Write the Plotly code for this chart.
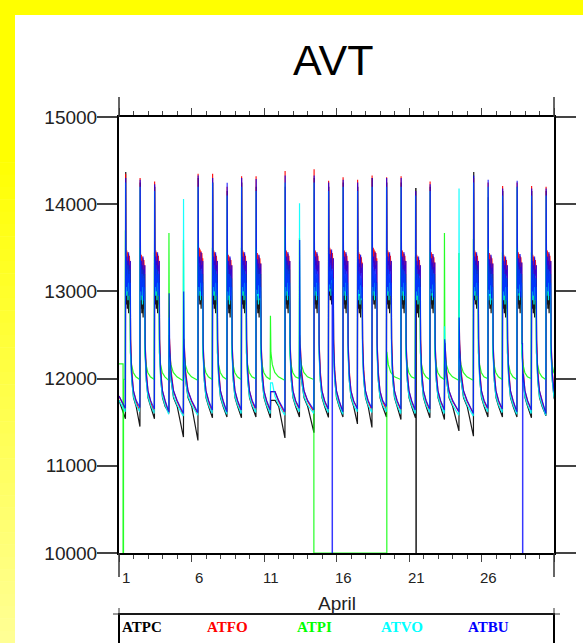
import plotly.graph_objects as go

# ------------------------------------------------------------------
# Labels
# ------------------------------------------------------------------
TITLE = "AVT"
MONTH = "April"
N_DAYS = 30
TICK_DAYS = [1, 6, 11, 16, 21, 26]
Y_TICKS = [10000, 11000, 12000, 13000, 14000, 15000]

STATIONS = ["ATPC", "ATFO", "ATPI", "ATVO", "ATBU"]
COLORS = {"ATPC": "#000000", "ATFO": "#ff0000", "ATPI": "#00ff00",
          "ATVO": "#00ffff", "ATBU": "#0000ff"}
OPACITY = {"ATPC": 0.9, "ATFO": 0.9, "ATPI": 0.85, "ATVO": 0.9, "ATBU": 0.78}

# ------------------------------------------------------------------
# Daily readings (one value per day of April)
# ------------------------------------------------------------------
# midday spike maximum
ATPC_PEAK = [14370, 14250, 14200, 12200, 12300, 14300, 14250, 14150, 14250, 14200,
             11750, 14200, 12100, 14300, 14200, 14250, 14200, 14300, 14250, 14250,
             14180, 14200, 12200, 12350, 14370, 14080, 14150, 14200, 14150, 14150]
ATFO_PEAK = [14350, 14300, 14260, 12500, 12450, 14350, 14350, 14200, 14320, 14320,
             11850, 14380, 12500, 14400, 14270, 14310, 14280, 14330, 14310, 14320,
             14150, 14260, 12400, 12900, 14300, 14250, 14210, 14250, 14210, 14200]
ATPI_PEAK = [13700, 13500, 13450, 13670, 13590, 13550, 13500, 13450, 13500, 13500,
             12720, 13740, 13610, 13600, 13400, 13400, 13400, 13400, 12400, 13400,
             13400, 13450, 13670, 13440, 13600, 13500, 13450, 13500, 13450, 13450]
ATVO_PEAK = [14250, 14200, 14150, 12700, 14060, 14200, 14250, 14100, 14200, 14150,
             11950, 14250, 14010, 14250, 14150, 14200, 14150, 14200, 14200, 14200,
             14100, 14150, 12600, 14180, 14250, 14200, 14100, 14200, 14100, 14100]
ATBU_PEAK = [14300, 14280, 14230, 12980, 13000, 14330, 14300, 14245, 14300, 14290,
             11850, 14330, 13590, 14330, 14250, 14280, 14250, 14300, 14300, 14300,
             14150, 14230, 12450, 12700, 14330, 14280, 14180, 14270, 14180, 14180]

# afternoon plateau level (None: no plateau that day)
ATPC_PLAT = [13000, 12950, 13000, None, None, 13050, 13000, 12950, 13000, 12950,
             None, 13000, None, 13000, 13100, 13000, 12950, 13050, 13000, 13000,
             12950, 13000, None, None, 13050, 13000, 12950, 13000, 12950, 13000]
ATFO_PLAT = [13350, 13300, 13350, None, None, 13380, 13350, 13300, 13350, 13320,
             None, 13350, None, 13350, 13380, 13350, 13330, 13380, 13350, 13350,
             13300, 13330, None, None, 13350, 13320, 13300, 13330, 13300, 13350]
ATPI_PLAT = [13200, 13150, 13150, None, None, 13150, 13150, 13100, 13150, 13150,
             None, 13200, None, 13150, 13150, 13150, 13150, 13150, None, 13150,
             13100, 13150, None, None, 13200, 13150, 13100, 13150, 13100, 13150]
ATVO_PLAT = [13100, 13050, 13100, None, None, 13100, 13100, 13050, 13100, 13050,
             None, 13100, None, 13100, 13150, 13100, 13050, 13100, 13100, 13100,
             13050, 13100, None, None, 13100, 13050, 13050, 13100, 13050, 13100]
ATBU_PLAT = [13250, 13200, 13250, None, None, 13250, 13250, 13200, 13250, 13220,
             None, 13250, None, 13250, 13280, 13250, 13220, 13250, 13250, 13250,
             13200, 13230, None, None, 13250, 13220, 13200, 13230, 13200, 13250]

# overnight minimum reached before the next day's spike
ATPC_LOW = [11450, 11540, 11610, 11330, 11290, 11550, 11560, 11550, 11560, 11550,
            11320, 11560, 11380, 11555, 11560, 11480, 11440, 11560, 11530, 11550,
            11550, 11530, 11400, 11340, 11560, 11560, 11560, 11550, 11575, 11560]
ATFO_LOW = [11620, 11600, 11600, 11580, 11590, 11600, 11610, 11620, 11640, 11620,
            11600, 11650, 11620, 11640, 11620, 11660, 11640, 11650, 11640, 11620,
            11630, 11640, 11620, 11600, 11650, 11640, 11620, 11640, 11600, 11700]
ATPI_LOW = [11990, 11990, 11980, 11975, 11980, 11990, 11990, 11990, 12000, 11990,
            11980, 12000, 11990, 11990, 11990, 11990, 11990, 11990, 11990, 12000,
            11990, 11990, 11980, 11980, 12000, 11990, 11990, 12000, 11990, 12050]
ATVO_LOW = [11620, 11600, 11590, 11570, 11580, 11600, 11590, 11600, 11610, 11600,
            11580, 11620, 11600, 11610, 11590, 11620, 11610, 11620, 11600, 11600,
            11610, 11600, 11580, 11570, 11620, 11610, 11590, 11600, 11580, 11650]
ATBU_LOW = [11670, 11650, 11620, 11600, 11610, 11640, 11620, 11640, 11660, 11640,
            11620, 11660, 11640, 11650, 11620, 11650, 11660, 11680, 11650, 11640,
            11650, 11640, 11620, 11600, 11660, 11650, 11620, 11640, 11600, 11700]

# value at 00:00 on the 1st and the first morning minimum
ATPC_INIT = [11750, 11540]
ATFO_INIT = [11800, 11650]
ATPI_INIT = [12170, 11990]
ATVO_INIT = [11750, 11620]
ATBU_INIT = [11800, 11660]

# evening decay levels after the plateau ends
ATPC_DECAY = [12300, 11980, 11780, 11680]
ATFO_DECAY = [12450, 12100, 11860, 11740]
ATPI_DECAY = [12300, 12160, 12070, 12020]
ATVO_DECAY = [12300, 12000, 11800, 11700]
ATBU_DECAY = [12400, 12050, 11860, 11750]

# time of the daily spike (fraction of a day)
SPIKE_TIME = {"ATPC": 0.465, "ATFO": 0.455, "ATPI": 0.445, "ATVO": 0.45, "ATBU": 0.46}

# fluctuation around the plateau level during the afternoon
PLATEAU_PHASES = [0.02, 0.05, 0.08, 0.11, 0.14, 0.17, 0.20, 0.23, 0.26, 0.29, 0.32]
ATPC_SWING = [100, -150, 50, -200, 80, -100, -250, 0, -150, 60, -200]
ATFO_SWING = [150, -100, 120, -50, 100, -150, 80, -120, 60, -80, 0]
ATPI_SWING = [100, -100, 150, -150, 50, -200, 100, -50, 0, -100, 50]
ATVO_SWING = [120, -150, 80, -100, 150, -200, 50, -50, 100, -150, 0]
ATBU_SWING = [200, -200, 150, -250, 100, -150, 200, -300, 50, -100, 100]

# periods where a station dropped out (start, end in days since April 1 00:00)
DROPOUTS = {
    "ATPI": [(0.28, 0.31), (13.44, 18.47)],
    "ATBU": [(14.70, 14.72), (27.83, 27.85)],
    "ATPC": [(20.48, 20.50)],
}
DROPOUT_LEVEL = 10000

DATA = {
    "ATPC": (ATPC_INIT, ATPC_PEAK, ATPC_PLAT, ATPC_LOW, ATPC_DECAY, ATPC_SWING),
    "ATFO": (ATFO_INIT, ATFO_PEAK, ATFO_PLAT, ATFO_LOW, ATFO_DECAY, ATFO_SWING),
    "ATPI": (ATPI_INIT, ATPI_PEAK, ATPI_PLAT, ATPI_LOW, ATPI_DECAY, ATPI_SWING),
    "ATVO": (ATVO_INIT, ATVO_PEAK, ATVO_PLAT, ATVO_LOW, ATVO_DECAY, ATVO_SWING),
    "ATBU": (ATBU_INIT, ATBU_PEAK, ATBU_PLAT, ATBU_LOW, ATBU_DECAY, ATBU_SWING),
}


def daily_cycle(init, peak, plat, low, decay, swing, spike):
    """Vertices of one station's trace: morning minimum, midday spike,
    afternoon plateau, evening decay, for every day of the month."""
    t = [0.0, spike - 0.02]
    v = [init[0], init[1]]
    for d in range(N_DAYS):
        ts = d + spike
        t.append(ts)
        v.append(peak[d])
        if plat[d] is not None:
            for ph, off in zip(PLATEAU_PHASES, swing):
                t.append(ts + ph)
                v.append(plat[d] + off)
            base = plat[d]
            t_decay = [ts + 0.34, ts + 0.42, ts + 0.54, ts + 0.72]
        else:
            base = peak[d]
            t_decay = [ts + 0.03, ts + 0.13, ts + 0.30, ts + 0.55]
        for td, lv in zip(t_decay, decay):
            t.append(td)
            v.append(min(lv, base))
        t.append(ts + 0.98)
        v.append(low[d])
    return t, v


def with_dropouts(t, v, gaps):
    for start, end in gaps:
        nt, nv = [], []
        before = [(a, b) for a, b in zip(t, v) if a < start]
        after = [(a, b) for a, b in zip(t, v) if a > end]
        for a, b in before:
            nt.append(a)
            nv.append(b)
        nt += [start, start, end, end]
        nv += [before[-1][1], DROPOUT_LEVEL, DROPOUT_LEVEL, after[0][1]]
        for a, b in after:
            nt.append(a)
            nv.append(b)
        t, v = nt, nv
    return t, v


# ------------------------------------------------------------------
# Geometry helpers (pixel -> paper coordinates)
# ------------------------------------------------------------------
FIG_W, FIG_H = 583, 643
PL, PR, PT, PB = 119, 554, 117, 553


def px(x):
    return (x - PL) / (PR - PL)


def py(y):
    return (PB - y) / (PB - PT)


fig = go.Figure()

for name in STATIONS:
    init, peak, plat, low, decay, swing = DATA[name]
    t, v = daily_cycle(init, peak, plat, low, decay, swing, SPIKE_TIME[name])
    t, v = with_dropouts(t, v, DROPOUTS.get(name, []))
    fig.add_trace(go.Scatter(
        x=t, y=v, mode="lines", name=name, opacity=OPACITY[name],
        line=dict(color=COLORS[name], width=1.2, simplify=False),
        showlegend=False, hoverinfo="skip",
    ))

shapes = []
# yellow page border: solid band on top, fading band on the left
shapes.append(dict(type="rect", xref="paper", yref="paper",
                   x0=px(0), x1=px(FIG_W), y0=py(15), y1=py(0),
                   fillcolor="#ffff00", line=dict(width=0), layer="below"))
shapes.append(dict(type="rect", xref="paper", yref="paper",
                   x0=px(0), x1=px(15), y0=py(150), y1=py(0),
                   fillcolor="#ffff00", line=dict(width=0), layer="below"))
steps = 40
for i in range(steps):
    y0 = 150 + (FIG_H - 150) * i / steps
    y1 = 150 + (FIG_H - 150) * (i + 1) / steps
    b = int(150 * (i + 0.5) / steps)
    shapes.append(dict(type="rect", xref="paper", yref="paper",
                       x0=px(0), x1=px(15), y0=py(y1 + 0.5), y1=py(y0),
                       fillcolor=f"rgb(255,255,{b})", line=dict(width=0), layer="below"))

# frame corners extending beyond the plot box
for xx in (PL, PR):
    shapes.append(dict(type="line", xref="paper", yref="paper",
                       x0=px(xx), x1=px(xx), y0=py(97), y1=py(PT),
                       line=dict(color="#333333", width=1.5)))
    shapes.append(dict(type="line", xref="paper", yref="paper",
                       x0=px(xx), x1=px(xx), y0=py(PB), y1=py(577),
                       line=dict(color="#333333", width=1.5)))

# legend box
shapes.append(dict(type="rect", xref="paper", yref="paper",
                   x0=px(PL), x1=px(PR), y0=py(660), y1=py(614),
                   line=dict(color="black", width=2)))
shapes.append(dict(type="line", xref="paper", yref="paper",
                   x0=px(113), x1=px(560), y0=py(614), y1=py(614),
                   line=dict(color="#333333", width=1)))
for xx in (PL, PR):
    shapes.append(dict(type="line", xref="paper", yref="paper",
                       x0=px(xx), x1=px(xx), y0=py(608), y1=py(614),
                       line=dict(color="#333333", width=1)))

annotations = []
annotations.append(dict(text=TITLE, x=px(333), y=py(60), xref="paper", yref="paper",
                        showarrow=False, xanchor="center", yanchor="middle",
                        font=dict(family="Liberation Sans", size=43, color="black")))
for d in TICK_DAYS:
    annotations.append(dict(text=str(d), x=d - 0.5, y=py(577), xref="x", yref="paper",
                            showarrow=False, xanchor="center", yanchor="middle",
                            font=dict(family="Liberation Sans", size=15, color="#222222")))
annotations.append(dict(text=MONTH, x=0.5, y=py(603), xref="paper", yref="paper",
                        showarrow=False, xanchor="center", yanchor="middle",
                        font=dict(family="Liberation Sans", size=19, color="#222222")))
legend_x = [120, 205, 295, 379, 466]
for name, lx in zip(STATIONS, legend_x):
    annotations.append(dict(text=f"<b>{name}</b>", x=px(lx), y=py(627),
                            xref="paper", yref="paper", showarrow=False,
                            xanchor="left", yanchor="middle",
                            font=dict(family="Liberation Serif", size=15,
                                      color=COLORS[name])))

fig.update_layout(
    width=FIG_W, height=FIG_H, autosize=False,
    margin=dict(l=PL, r=FIG_W - PR, t=PT, b=FIG_H - PB, pad=0, autoexpand=False),
    paper_bgcolor="white", plot_bgcolor="white",
    shapes=shapes, annotations=annotations,
    showlegend=False,
    xaxis=dict(range=[0, N_DAYS], showgrid=False, zeroline=False, automargin=False,
               showline=True, linecolor="black", linewidth=2, mirror="ticks",
               tickvals=[d - 1 for d in TICK_DAYS] + [N_DAYS], showticklabels=False,
               ticks="outside", ticklen=7, tickwidth=1, tickcolor="#444444",
               minor=dict(ticks="outside", ticklen=4, dtick=1, tick0=0,
                          tickwidth=1, tickcolor="#444444", showgrid=False)),
    yaxis=dict(range=[10000, 15000], showgrid=False, zeroline=False, automargin=False,
               showline=True, linecolor="black", linewidth=2, mirror="ticks",
               tickvals=Y_TICKS, ticktext=[str(y) for y in Y_TICKS],
               ticks="outside", ticklen=20, tickwidth=1.5, tickcolor="#444444",
               ticklabelstandoff=-4,
               tickfont=dict(family="Liberation Sans", size=19, color="#222222")),
)

fig.write_html("out.html")
